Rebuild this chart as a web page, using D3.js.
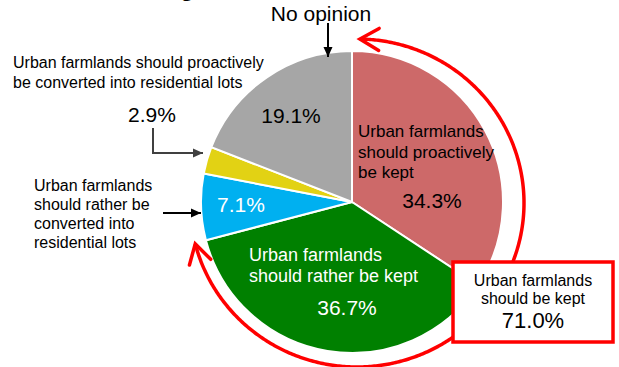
<!DOCTYPE html>
<meta charset="utf-8">
<style>
body { margin: 0; background: #fff; }
svg { display: block; font-family: 'Liberation Sans', Arial, sans-serif; }
.slices path { stroke: #fff; stroke-width: 2px; }
</style>
<svg width="619" height="367"></svg>
<script src="https://cdn.jsdelivr.net/npm/d3@7"></script>
<script>
// survey shares, clockwise from 12 o'clock
var categories = [
  "Urban farmlands should proactively be kept",
  "Urban farmlands should rather be kept",
  "Urban farmlands should rather be converted into residential lots",
  "Urban farmlands should proactively be converted into residential lots",
  "No opinion"
];
var values = [34.3, 36.7, 7.1, 2.9, 19.1];
var colors = ["#cd6969", "#008000", "#00b0f0", "#e2d214", "#a6a6a6"];
var keptTotal = 71.0;

var svg = d3.select("svg"),
    cx = 352, cy = 202, radius = 151;

var pie = d3.pie().sort(null).value(function(d) { return d; });
var arc = d3.arc().innerRadius(0).outerRadius(radius);
var arcs = pie(values);

var defs = svg.append("defs");
function triMarker(id, col) {
  defs.append("marker")
      .attr("id", id)
      .attr("viewBox", "0 -5 10 10")
      .attr("refX", 10).attr("refY", 0)
      .attr("markerWidth", 11).attr("markerHeight", 10)
      .attr("markerUnits", "userSpaceOnUse")
      .attr("orient", "auto")
    .append("path")
      .attr("d", "M0,-4.5L10,0L0,4.5Z")
      .attr("fill", col);
}
triMarker("blk", "#000");
triMarker("gry", "#404040");
defs.append("marker")
    .attr("id", "chev")
    .attr("viewBox", "-24 -14 28 28")
    .attr("refX", 0).attr("refY", 0)
    .attr("markerWidth", 28).attr("markerHeight", 28)
    .attr("markerUnits", "userSpaceOnUse")
    .attr("orient", "auto-start-reverse")
  .append("path")
    .attr("d", "M-19,-11L0,0L-19,11")
    .attr("fill", "none")
    .attr("stroke", "#ff0000")
    .attr("stroke-width", 3.5)
    .attr("stroke-linecap", "round");

// cut-off title (only its descender shows)
svg.append("text").attr("x", 180).attr("y", -4)
    .attr("font-size", 24).attr("font-weight", "bold").text("g");

// pie
svg.append("g")
    .attr("class", "slices")
    .attr("transform", "translate(" + cx + "," + cy + ")")
  .selectAll("path")
  .data(arcs)
  .join("path")
    .attr("d", arc)
    .attr("fill", function(d, i) { return colors[i]; });

// red ring spanning the "kept" share
var ecx = 357, ecy = 203, rx = 167, ry = 164;
var a0 = 1 * Math.PI / 180, a1 = 2 * Math.PI * keptTotal / 100;
var ring = d3.line()
    .x(function(t) { return ecx + rx * Math.sin(t); })
    .y(function(t) { return ecy - ry * Math.cos(t); });
svg.append("path")
    .attr("d", ring(d3.range(a0, a1, 0.01).concat([a1])))
    .attr("fill", "none")
    .attr("stroke", "#ff0000")
    .attr("stroke-width", 3.5)
    .attr("marker-start", "url(#chev)")
    .attr("marker-end", "url(#chev)");

// text helper
function label(x, y, lines, opt) {
  var t = svg.append("text")
      .attr("x", x).attr("y", y)
      .attr("font-size", opt.size)
      .attr("fill", opt.fill || "#000")
      .attr("text-anchor", opt.anchor || "start");
  lines.forEach(function(s, i) {
    t.append("tspan").attr("x", x).attr("dy", i ? opt.lh : 0).text(s);
  });
}
function pct(v) { return v.toFixed(1) + "%"; }

// slice labels
label(358, 137, ["Urban farmlands", "should proactively", "be kept"], {size: 17, lh: 20.5});
label(432, 208, [pct(values[0])], {size: 21, anchor: "middle"});
label(249, 261, ["Urban farmlands", "should rather be kept"], {size: 18, lh: 21, fill: "#fff"});
label(347, 315, [pct(values[1])], {size: 21, anchor: "middle", fill: "#fff"});
label(241, 212, [pct(values[2])], {size: 21, anchor: "middle", fill: "#fff"});
label(291, 123, [pct(values[4])], {size: 21, anchor: "middle"});

// outside labels
label(321, 21, [categories[4]], {size: 21, anchor: "middle"});
svg.append("line").attr("x1", 328).attr("y1", 23).attr("x2", 328).attr("y2", 57)
    .attr("stroke", "#000").attr("stroke-width", 2).attr("marker-end", "url(#blk)");

label(13, 68, ["Urban farmlands should proactively", "be converted into residential lots"], {size: 16, lh: 20});
label(128, 122, [pct(values[3])], {size: 21});
svg.append("path").attr("d", "M153,128V153H203")
    .attr("fill", "none").attr("stroke", "#404040").attr("stroke-width", 2)
    .attr("marker-end", "url(#gry)");

label(34, 191, ["Urban farmlands", "should rather be", "converted into", "residential lots"], {size: 16, lh: 19});
svg.append("line").attr("x1", 163).attr("y1", 213).attr("x2", 201).attr("y2", 213)
    .attr("stroke", "#000").attr("stroke-width", 2).attr("marker-end", "url(#blk)");

// total box
svg.append("rect")
    .attr("x", 453).attr("y", 262).attr("width", 160).attr("height", 80)
    .attr("fill", "#fff").attr("stroke", "#ff0000").attr("stroke-width", 3.5);
label(533, 286, ["Urban farmlands", "should be kept"], {size: 16, lh: 18, anchor: "middle"});
label(533, 328, [pct(keptTotal)], {size: 22, anchor: "middle"});
</script>
